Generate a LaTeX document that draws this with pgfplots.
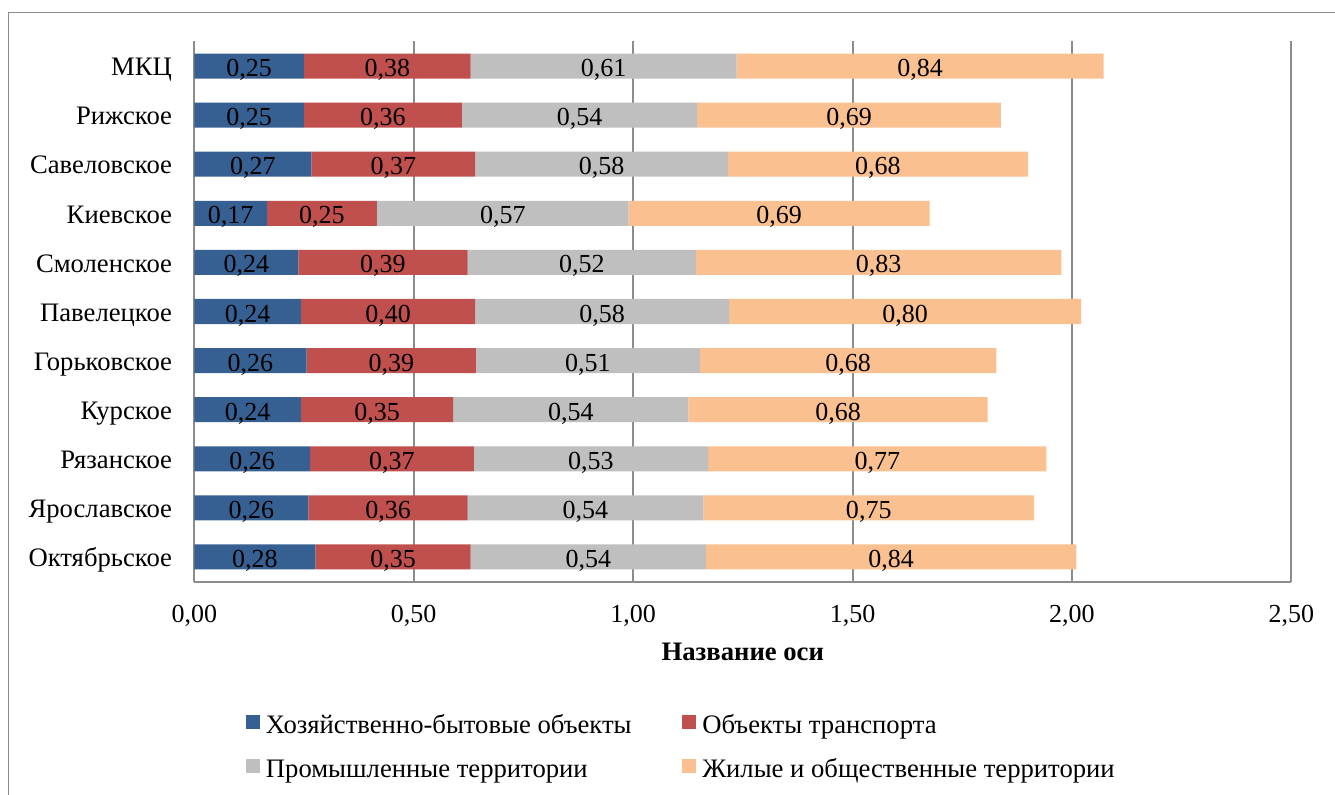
\documentclass[border=0pt]{standalone}
\usepackage{pgfplots}
\usepackage{pgfplotstable}
\pgfplotsset{compat=1.18}
\usepackage{fontspec}
\setmainfont{Liberation Serif}
\definecolor{cblue}{HTML}{376092}
\definecolor{cred}{HTML}{C0504D}
\definecolor{cgray}{HTML}{BFBFBF}
\definecolor{cpeach}{HTML}{FAC090}
\definecolor{cgrid}{HTML}{8C8C8C}
\newcommand{\fs}{\fontsize{19.5}{23}\selectfont}
\newcommand{\fl}{\fontsize{20}{24}\selectfont}

\pgfplotstableread[col sep=comma]{
idx,name,a,b,c,d
0,Октябрьское,0.276,0.354,0.536,0.844
1,Ярославское,0.260,0.363,0.537,0.754
2,Рязанское,0.264,0.373,0.534,0.771
3,Курское,0.243,0.347,0.536,0.682
4,Горьковское,0.256,0.386,0.510,0.676
5,Павелецкое,0.243,0.397,0.579,0.802
6,Смоленское,0.237,0.386,0.520,0.833
7,Киевское,0.166,0.250,0.574,0.686
8,Савеловское,0.267,0.373,0.576,0.684
9,Рижское,0.250,0.360,0.536,0.692
10,МКЦ,0.250,0.380,0.606,0.836
}\data

\pgfplotsset{
  common/.style={
    scale only axis, width=822.75pt, height=405pt,
    xmin=0, xmax=2.5, ymin=-0.5, ymax=10.5,
  },
}

\begin{document}
\begin{tikzpicture}
\begin{axis}[
  common,
  xbar stacked, bar width=0.51,
  axis x line*=bottom, axis y line*=left,
  axis line style={draw=cgrid, line width=1.5pt},
  xmajorgrids, major grid style={draw=cgrid, line width=1.5pt},
  major tick length=0pt,
  xtick={0,0.5,1,1.5,2,2.5},
  scaled x ticks=false,
  xticklabel style={font=\fs, anchor=base, yshift=-30.4pt,
    /pgf/number format/.cd, fixed, fixed zerofill, precision=2, use comma, assume math mode=true},
  ytick={0,1,2,3,4,5,6,7,8,9,10},
  yticklabels from table={\data}{name},
  yticklabel style={font=\fl, anchor=base east, inner sep=0pt, xshift=-16.5pt, yshift=-7.3pt},
  xlabel={\textbf{Название оси}},
  xlabel style={font=\fl, at={(axis description cs:0.5,0)}, anchor=base, yshift=-59.6pt},
  legend columns=2,
  legend cell align=left,
  legend image code/.code={\fill[#1] (0pt,-1.5pt) rectangle (10.5pt,9pt);},
  legend style={at={(axis description cs:0.0471,-0.2471)}, anchor=north west,
    draw=none, fill=none, inner sep=0pt, outer sep=0pt, font=\fl,
    nodes={inner sep=0pt, text height=14pt, text depth=4pt},
    row sep=15pt,
    /tikz/every odd column/.append style={column sep=4.5pt},
    /tikz/every even column/.append style={column sep=38pt}},
]
\addplot[fill=cblue, draw=none] table[x=a, y=idx]{\data};
\addplot[fill=cred, draw=none] table[x=b, y=idx]{\data};
\addplot[fill=cgray, draw=none] table[x=c, y=idx]{\data};
\addplot[fill=cpeach, draw=none] table[x=d, y=idx]{\data};
\legend{Хозяйственно-бытовые объекты, Объекты транспорта, Промышленные территории, Жилые и общественные территории}
\end{axis}
\begin{axis}[
  common, axis lines=none, clip=false,
  nodes near coords style={font=\fs, text=black, anchor=base, yshift=-7.9pt,
    /pgf/number format/fixed, /pgf/number format/fixed zerofill,
    /pgf/number format/precision=2, /pgf/number format/use comma,
    /pgf/number format/assume math mode=true},
]
\addplot[draw=none, mark=none, nodes near coords, point meta=explicit] table[x expr=\thisrow{a}/2, y=idx, meta=a]{\data};
\addplot[draw=none, mark=none, nodes near coords, point meta=explicit] table[x expr=\thisrow{a}+\thisrow{b}/2, y=idx, meta=b]{\data};
\addplot[draw=none, mark=none, nodes near coords, point meta=explicit] table[x expr=\thisrow{a}+\thisrow{b}+\thisrow{c}/2, y=idx, meta=c]{\data};
\addplot[draw=none, mark=none, nodes near coords, point meta=explicit] table[x expr=\thisrow{a}+\thisrow{b}+\thisrow{c}+\thisrow{d}/2, y=idx, meta=d]{\data};
\end{axis}
\draw[cgrid, line width=0.75pt] (-139.2pt,-170pt) -- (-139.2pt,426.9pt) -- (870pt,426.9pt);
\pgfresetboundingbox
\useasboundingbox (-145.7pt,-159.4pt) rectangle (855.5pt,436.1pt);
\end{tikzpicture}
\end{document}
